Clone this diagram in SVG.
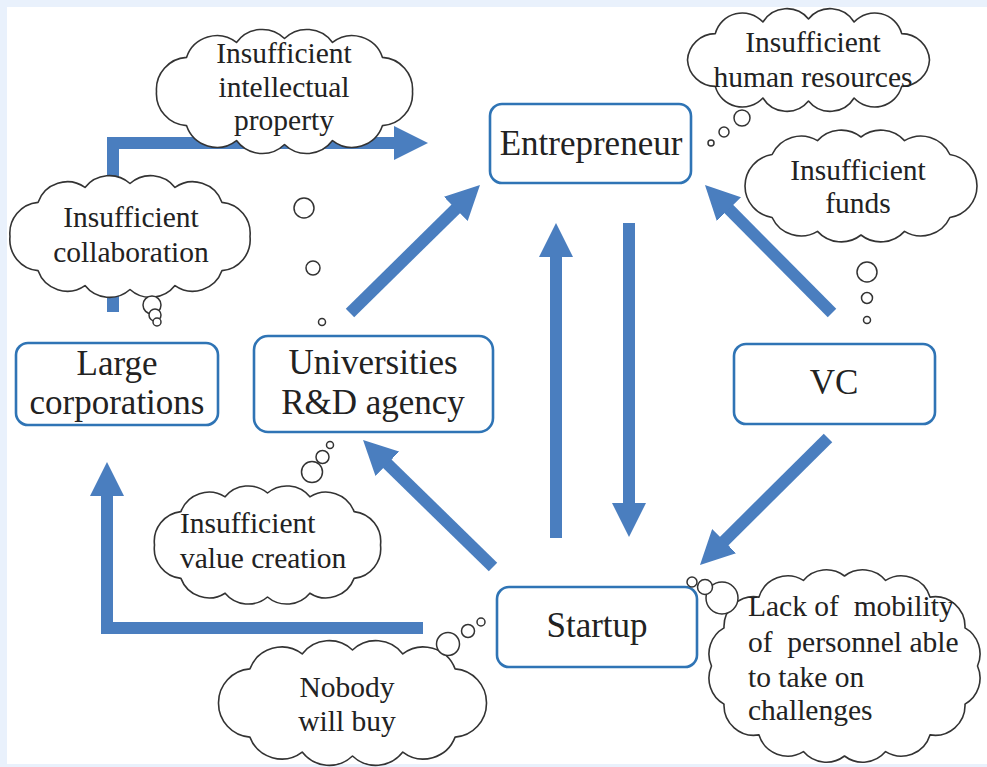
<svg xmlns="http://www.w3.org/2000/svg" width="987" height="767" viewBox="0 0 987 767">
<defs>
<style>
.box{fill:#ffffff;stroke:#2f74b5;stroke-width:2.6}
.bt{font-size:35px;fill:#222;text-anchor:middle}
.cloud{fill:#ffffff;stroke:#333;stroke-width:1.6;stroke-linejoin:round}
.ct{font-size:29.5px;fill:#222;text-anchor:middle;white-space:pre}
.cl{text-anchor:start}
.bub{fill:#ffffff;stroke:#333;stroke-width:1.5}
.arr{fill:none;stroke:#4a7ebf;stroke-width:12;stroke-linejoin:miter;marker-end:url(#ah)}
</style>
<marker id="ah" markerUnits="userSpaceOnUse" markerWidth="34" markerHeight="34" refX="4" refY="17" orient="auto" viewBox="0 0 34 34">
<path d="M0,0 L34,17 L0,34 Z" fill="#4a7ebf"/>
</marker>
</defs>
<rect x="0" y="0" width="987" height="767" fill="#e9f1fc"/>
<rect x="7" y="7" width="980" height="757" fill="#ffffff"/>

<g id="cloud-funds">
<path class="cloud" d="M977,186 A32,32 0 0 1 949.9,217.5 A32,32 0 0 1 904.5,231.4 A32,32 0 0 1 861,235 A32,32 0 0 1 817.5,231.4 A32,32 0 0 1 772.1,217.5 A32,32 0 0 1 745,186 A32,32 0 0 1 772.1,154.5 A32,32 0 0 1 817.5,140.6 A32,32 0 0 1 861,137 A32,32 0 0 1 904.5,140.6 A32,32 0 0 1 949.9,154.5 A32,32 0 0 1 977,186 Z"/>
<text class="ct" style="font-family:'Liberation Serif',serif" x="858" y="180">Insufficient</text>
<text class="ct" style="font-family:'Liberation Serif',serif" x="858" y="213">funds</text>
<circle class="bub" cx="867" cy="272" r="10"/>
<circle class="bub" cx="867" cy="298" r="5.5"/>
<circle class="bub" cx="867" cy="320" r="3.5"/>
</g>

<g id="connectors">
<path class="arr" d="M113,312 V143 H398"/>
<path class="arr" d="M350,313 L458.6,206.1"/>
<path class="arr" d="M556,538 V253"/>
<path class="arr" d="M629,223 V507"/>
<path class="arr" d="M832,313 L726.1,206.3"/>
<path class="arr" d="M828,438 L721.3,543.9"/>
<path class="arr" d="M493,567 L384.5,461"/>
<path class="arr" d="M423,628 H107 V492"/>
</g>

<g id="node-entrepreneur">
<rect class="box" x="490" y="104" width="201" height="79" rx="12"/>
<text class="bt" style="font-family:'Liberation Serif',serif" x="591" y="155">Entrepreneur</text>
</g>
<g id="node-large-corporations">
<rect class="box" x="16" y="343" width="202" height="82" rx="12"/>
<text class="bt" style="font-family:'Liberation Serif',serif" x="117" y="375">Large</text>
<text class="bt" style="font-family:'Liberation Serif',serif" x="117" y="414">corporations</text>
</g>
<g id="node-universities">
<rect class="box" x="254" y="336" width="239" height="96" rx="14"/>
<text class="bt" style="font-family:'Liberation Serif',serif" x="373" y="374">Universities</text>
<text class="bt" style="font-family:'Liberation Serif',serif" x="373" y="414">R&amp;D agency</text>
</g>
<g id="node-vc">
<rect class="box" x="734" y="344" width="201" height="80" rx="12"/>
<text class="bt" style="font-family:'Liberation Serif',serif" x="834" y="394">VC</text>
</g>
<g id="node-startup">
<rect class="box" x="497" y="587" width="200" height="80" rx="12"/>
<text class="bt" style="font-family:'Liberation Serif',serif" x="597" y="637">Startup</text>
</g>

<g id="cloud-ip">
<path class="cloud" d="M412.5,91.5 A32,32 0 0 1 382.5,125.6 A32,32 0 0 1 332.5,140.6 A32,32 0 0 1 284.5,144.5 A32,32 0 0 1 236.5,140.6 A32,32 0 0 1 186.5,125.6 A32,32 0 0 1 156.5,91.5 A32,32 0 0 1 186.5,57.4 A32,32 0 0 1 236.5,42.4 A32,32 0 0 1 284.5,38.5 A32,32 0 0 1 332.5,42.4 A32,32 0 0 1 382.5,57.4 A32,32 0 0 1 412.5,91.5 Z"/>
<text class="ct" style="font-family:'Liberation Serif',serif" x="284" y="63">Insufficient</text>
<text class="ct" style="font-family:'Liberation Serif',serif" x="284" y="97">intellectual</text>
<text class="ct" style="font-family:'Liberation Serif',serif" x="284" y="130">property</text>
<circle class="bub" cx="304" cy="208" r="10"/>
<circle class="bub" cx="313" cy="268" r="7"/>
<circle class="bub" cx="322" cy="322" r="3.5"/>
</g>

<g id="cloud-collaboration">
<path class="cloud" d="M250,236.5 A31,31 0 0 1 222,270.6 A31,31 0 0 1 175,285.6 A31,31 0 0 1 130,289.5 A31,31 0 0 1 85,285.6 A31,31 0 0 1 38,270.6 A31,31 0 0 1 10,236.5 A31,31 0 0 1 38,202.4 A31,31 0 0 1 85,187.4 A31,31 0 0 1 130,183.5 A31,31 0 0 1 175,187.4 A31,31 0 0 1 222,202.4 A31,31 0 0 1 250,236.5 Z"/>
<text class="ct" style="font-family:'Liberation Serif',serif" x="131" y="227">Insufficient</text>
<text class="ct" style="font-family:'Liberation Serif',serif" x="131" y="262">collaboration</text>
<circle class="bub" cx="152" cy="305" r="9"/>
<circle class="bub" cx="155" cy="315" r="6"/>
<circle class="bub" cx="157" cy="322" r="4"/>
</g>

<g id="cloud-human-resources">
<path class="cloud" d="M929.5,60 A28,28 0 0 1 901.7,86.4 A28,28 0 0 1 854.1,98 A28,28 0 0 1 808.5,101 A28,28 0 0 1 762.9,98 A28,28 0 0 1 715.3,86.4 A28,28 0 0 1 687.5,60 A28,28 0 0 1 715.3,33.6 A28,28 0 0 1 762.9,22 A28,28 0 0 1 808.5,19 A28,28 0 0 1 854.1,22 A28,28 0 0 1 901.7,33.6 A28,28 0 0 1 929.5,60 Z"/>
<text class="ct" style="font-family:'Liberation Serif',serif" x="813" y="52">Insufficient</text>
<text class="ct" style="font-family:'Liberation Serif',serif" x="813" y="87">human resources</text>
<circle class="bub" cx="742" cy="118" r="8"/>
<circle class="bub" cx="724" cy="132" r="5"/>
<circle class="bub" cx="711" cy="143" r="3"/>
</g>

<g id="cloud-value-creation">
<path class="cloud" d="M380.5,545 A30,30 0 0 1 354.1,578.4 A30,30 0 0 1 309.9,593.2 A30,30 0 0 1 267.5,597 A30,30 0 0 1 225.1,593.2 A30,30 0 0 1 180.9,578.4 A30,30 0 0 1 154.5,545 A30,30 0 0 1 180.9,511.6 A30,30 0 0 1 225.1,496.8 A30,30 0 0 1 267.5,493 A30,30 0 0 1 309.9,496.8 A30,30 0 0 1 354.1,511.6 A30,30 0 0 1 380.5,545 Z"/>
<text class="ct cl" style="font-family:'Liberation Serif',serif" x="180" y="533">Insufficient</text>
<text class="ct cl" style="font-family:'Liberation Serif',serif" x="180" y="568">value creation</text>
<circle class="bub" cx="312" cy="472" r="10.5"/>
<circle class="bub" cx="322.5" cy="457" r="6.5"/>
<circle class="bub" cx="330" cy="445" r="3.5"/>
</g>

<g id="cloud-nobody">
<path class="cloud" d="M486.5,703 A34,34 0 0 1 455.1,737.1 A34,34 0 0 1 402.8,752.1 A34,34 0 0 1 352.5,756 A34,34 0 0 1 302.2,752.1 A34,34 0 0 1 249.9,737.1 A34,34 0 0 1 218.5,703 A34,34 0 0 1 249.9,668.9 A34,34 0 0 1 302.2,653.9 A34,34 0 0 1 352.5,650 A34,34 0 0 1 402.8,653.9 A34,34 0 0 1 455.1,668.9 A34,34 0 0 1 486.5,703 Z"/>
<text class="ct" style="font-family:'Liberation Serif',serif" x="347" y="697">Nobody</text>
<text class="ct" style="font-family:'Liberation Serif',serif" x="347" y="731">will buy</text>
<circle class="bub" cx="448" cy="644" r="11.5"/>
<circle class="bub" cx="468" cy="631" r="6.5"/>
<circle class="bub" cx="481" cy="622" r="4"/>
</g>

<g id="cloud-mobility">
<path class="cloud" d="M977.5,666 A30,30 0 0 1 965,704.1 A30,30 0 0 1 930,734.9 A30,30 0 0 1 885.6,751.6 A30,30 0 0 1 844.5,756 A30,30 0 0 1 803.4,751.6 A30,30 0 0 1 759,734.9 A30,30 0 0 1 724,704.1 A30,30 0 0 1 711.5,666 A30,30 0 0 1 724,627.9 A30,30 0 0 1 759,597.1 A30,30 0 0 1 803.4,580.4 A30,30 0 0 1 844.5,576 A30,30 0 0 1 885.6,580.4 A30,30 0 0 1 930,597.1 A30,30 0 0 1 965,627.9 A30,30 0 0 1 977.5,666 Z"/>
<text class="ct cl" style="font-family:'Liberation Serif',serif" x="748" y="616">Lack of  mobility</text>
<text class="ct cl" style="font-family:'Liberation Serif',serif" x="748" y="652">of  personnel able</text>
<text class="ct cl" style="font-family:'Liberation Serif',serif" x="748" y="687">to take on</text>
<text class="ct cl" style="font-family:'Liberation Serif',serif" x="748" y="720">challenges</text>
<circle class="bub" cx="722" cy="598" r="16"/>
<circle class="bub" cx="705" cy="587" r="7.5"/>
<circle class="bub" cx="692" cy="582" r="5"/>
</g>
</svg>
